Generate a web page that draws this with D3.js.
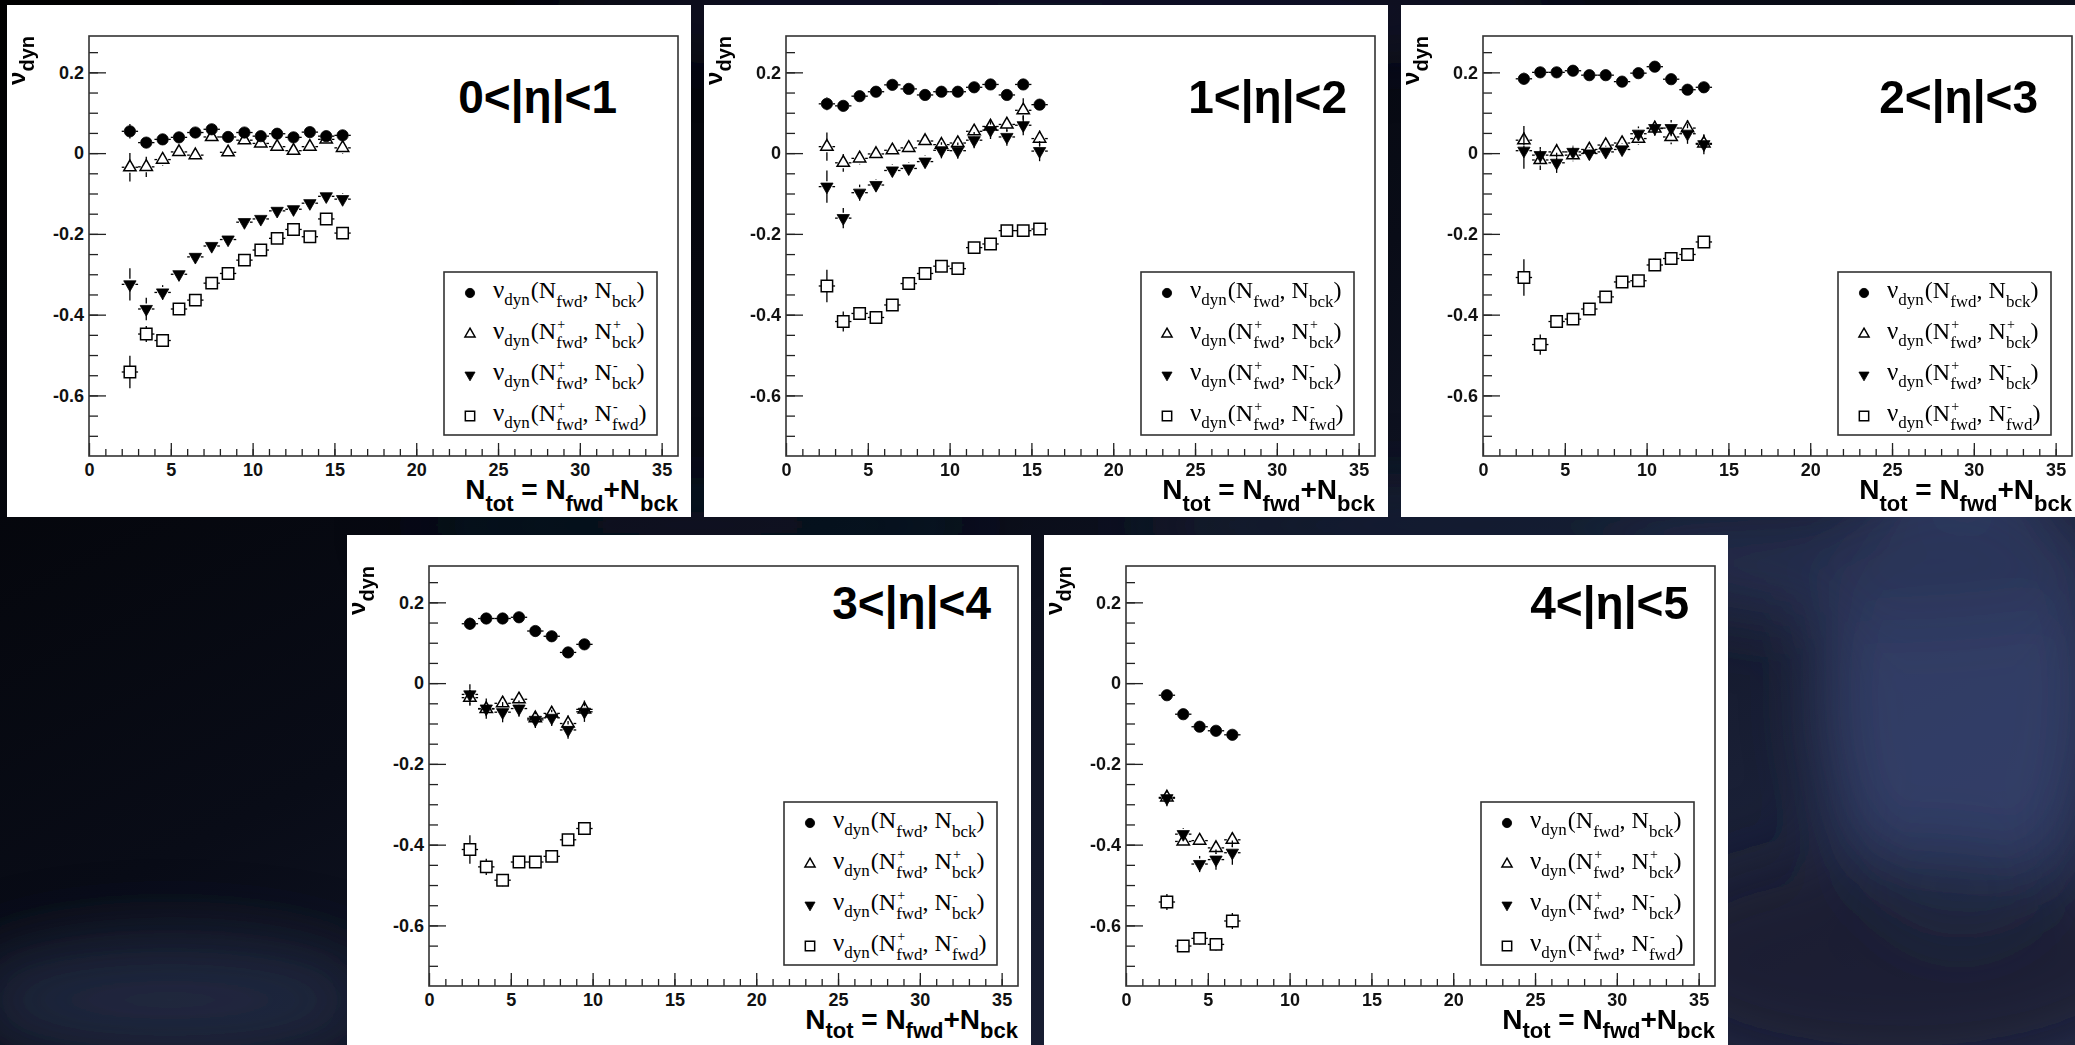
<!DOCTYPE html>
<html>
<head>
<meta charset="utf-8">
<script src="https://cdn.jsdelivr.net/npm/d3@7"></script>
<style>
  html, body { margin: 0; padding: 0; background: #000; overflow: hidden; }
  svg { display: block; }
</style>
</head>
<body>
<div id="chart"></div>
<script>
// Panel labels and axis ticks
var panelLabels = ["0<|η|<1", "1<|η|<2", "2<|η|<3", "3<|η|<4", "4<|η|<5"];
var xTickValues = [0, 5, 10, 15, 20, 25, 30, 35];
var yTickValues = [0.2, 0, -0.2, -0.4, -0.6];
var yTickLabels = ["0.2", "0", "-0.2", "-0.4", "-0.6"];

// N_tot bins for each eta window
var nTot01 = [2.5, 3.5, 4.5, 5.5, 6.5, 7.5, 8.5, 9.5, 10.5, 11.5, 12.5, 13.5, 14.5, 15.5];
var nTot12 = [2.5, 3.5, 4.5, 5.5, 6.5, 7.5, 8.5, 9.5, 10.5, 11.5, 12.5, 13.5, 14.5, 15.5];
var nTot23 = [2.5, 3.5, 4.5, 5.5, 6.5, 7.5, 8.5, 9.5, 10.5, 11.5, 12.5, 13.5];
var nTot34 = [2.5, 3.5, 4.5, 5.5, 6.5, 7.5, 8.5, 9.5];
var nTot45 = [2.5, 3.5, 4.5, 5.5, 6.5];

// v_dyn values: All = (Nfwd,Nbck), PP = (N+fwd,N+bck), PM = (N+fwd,N-bck), PMf = (N+fwd,N-fwd)
var vAll01 = [0.054, 0.026, 0.034, 0.039, 0.051, 0.059, 0.040, 0.051, 0.042, 0.048, 0.039, 0.052, 0.042, 0.044];
var vPP01 = [-0.035, -0.034, -0.016, 0.003, -0.005, 0.040, 0.002, 0.032, 0.024, 0.016, 0.006, 0.016, 0.034, 0.013];
var vPM01 = [-0.325, -0.386, -0.345, -0.300, -0.257, -0.230, -0.214, -0.171, -0.163, -0.143, -0.139, -0.124, -0.107, -0.114];
var vPMf01 = [-0.542, -0.448, -0.464, -0.386, -0.364, -0.322, -0.298, -0.265, -0.240, -0.211, -0.189, -0.207, -0.163, -0.198];

var vAll12 = [0.122, 0.117, 0.141, 0.152, 0.169, 0.159, 0.144, 0.152, 0.152, 0.163, 0.170, 0.144, 0.170, 0.120];
var vPP12 = [0.016, -0.024, -0.013, -0.002, 0.007, 0.013, 0.030, 0.021, 0.025, 0.054, 0.066, 0.071, 0.106, 0.036];
var vPM12 = [-0.083, -0.161, -0.098, -0.079, -0.043, -0.038, -0.021, 0.007, 0.006, 0.032, 0.057, 0.040, 0.069, 0.005];
var vPMf12 = [-0.329, -0.417, -0.397, -0.407, -0.376, -0.323, -0.298, -0.280, -0.286, -0.234, -0.225, -0.192, -0.192, -0.188];

var vAll23 = [0.184, 0.200, 0.200, 0.204, 0.193, 0.193, 0.177, 0.198, 0.214, 0.183, 0.157, 0.163];
var vPP23 = [0.032, -0.017, 0.003, -0.005, 0.009, 0.020, 0.025, 0.036, 0.061, 0.040, 0.062, 0.024];
var vPM23 = [0.006, -0.005, -0.024, 0.003, -0.001, 0.003, 0.009, 0.048, 0.062, 0.062, 0.048, 0.022];
var vPMf23 = [-0.308, -0.474, -0.417, -0.411, -0.386, -0.356, -0.319, -0.316, -0.277, -0.261, -0.251, -0.220];

var vAll34 = [0.147, 0.160, 0.160, 0.163, 0.129, 0.116, 0.076, 0.096];
var vPP34 = [-0.036, -0.064, -0.050, -0.040, -0.087, -0.075, -0.100, -0.065];
var vPM34 = [-0.028, -0.063, -0.072, -0.063, -0.091, -0.086, -0.116, -0.071];
var vPMf34 = [-0.412, -0.455, -0.488, -0.443, -0.443, -0.429, -0.388, -0.360];

var vAll45 = [-0.030, -0.077, -0.108, -0.118, -0.128];
var vPP45 = [-0.283, -0.392, -0.390, -0.408, -0.388];
var vPM45 = [-0.285, -0.374, -0.448, -0.437, -0.420];
var vPMf45 = [-0.542, -0.651, -0.632, -0.647, -0.589];

// statistical errors (vertical)
var eAll01 = [0.018, 0.008, 0.007, 0.007, 0.007, 0.007, 0.007, 0.007, 0.007, 0.007, 0.008, 0.008, 0.009, 0.010];
var ePP01 = [0.035, 0.025, 0.015, 0.012, 0.010, 0.010, 0.012, 0.010, 0.010, 0.010, 0.012, 0.012, 0.012, 0.015];
var ePM01 = [0.040, 0.028, 0.018, 0.012, 0.010, 0.010, 0.010, 0.010, 0.010, 0.010, 0.010, 0.010, 0.012, 0.015];
var ePMf01 = [0.040, 0.020, 0.012, 0.010, 0.010, 0.010, 0.010, 0.010, 0.010, 0.010, 0.010, 0.010, 0.010, 0.010];

var eAll12 = [0.016, 0.010, 0.008, 0.008, 0.008, 0.008, 0.008, 0.008, 0.008, 0.008, 0.008, 0.008, 0.010, 0.010];
var ePP12 = [0.035, 0.022, 0.015, 0.012, 0.012, 0.012, 0.012, 0.015, 0.015, 0.015, 0.018, 0.018, 0.030, 0.020];
var ePM12 = [0.040, 0.025, 0.020, 0.015, 0.015, 0.015, 0.015, 0.020, 0.020, 0.020, 0.022, 0.022, 0.025, 0.025];
var ePMf12 = [0.040, 0.025, 0.015, 0.010, 0.010, 0.010, 0.010, 0.010, 0.010, 0.010, 0.010, 0.010, 0.010, 0.012];

var eAll23 = [0.015, 0.010, 0.008, 0.008, 0.008, 0.008, 0.008, 0.008, 0.008, 0.008, 0.010, 0.012];
var ePP23 = [0.035, 0.025, 0.020, 0.015, 0.015, 0.015, 0.015, 0.015, 0.018, 0.018, 0.020, 0.020];
var ePM23 = [0.045, 0.020, 0.025, 0.015, 0.015, 0.015, 0.015, 0.018, 0.018, 0.020, 0.025, 0.025];
var ePMf23 = [0.045, 0.025, 0.015, 0.010, 0.010, 0.010, 0.010, 0.010, 0.010, 0.010, 0.010, 0.015];

var eAll34 = [0.015, 0.010, 0.008, 0.008, 0.008, 0.008, 0.008, 0.010];
var ePP34 = [0.020, 0.018, 0.018, 0.018, 0.018, 0.018, 0.020, 0.022];
var ePM34 = [0.025, 0.025, 0.025, 0.020, 0.020, 0.020, 0.022, 0.025];
var ePMf34 = [0.035, 0.020, 0.015, 0.010, 0.010, 0.010, 0.010, 0.012];

var eAll45 = [0.008, 0.008, 0.008, 0.008, 0.008];
var ePP45 = [0.015, 0.012, 0.012, 0.015, 0.018];
var ePM45 = [0.020, 0.015, 0.020, 0.025, 0.030];
var ePMf45 = [0.020, 0.015, 0.015, 0.015, 0.020];

// legend superscripts / subscripts for the four series
var legendSup1 = ["", "+", "+", "+"];
var legendSub1 = ["fwd", "fwd", "fwd", "fwd"];
var legendSup2 = ["", "+", "-", "-"];
var legendSub2 = ["bck", "bck", "bck", "fwd"];

// Build one table of panels from the arrays above
var panels = [
  { label: panelLabels[0], x: nTot01, y: [vAll01, vPP01, vPM01, vPMf01], err: [eAll01, ePP01, ePM01, ePMf01] },
  { label: panelLabels[1], x: nTot12, y: [vAll12, vPP12, vPM12, vPMf12], err: [eAll12, ePP12, ePM12, ePMf12] },
  { label: panelLabels[2], x: nTot23, y: [vAll23, vPP23, vPM23, vPMf23], err: [eAll23, ePP23, ePM23, ePMf23] },
  { label: panelLabels[3], x: nTot34, y: [vAll34, vPP34, vPM34, vPMf34], err: [eAll34, ePP34, ePM34, ePMf34] },
  { label: panelLabels[4], x: nTot45, y: [vAll45, vPP45, vPM45, vPMf45], err: [eAll45, ePP45, ePM45, ePMf45] }
];

// Layout (pixels)
var svgWidth = 2075;
var svgHeight = 1045;
var panelOrigin = [[7, 5], [704, 5], [1401, 5], [347, 535], [1044, 535]];
var panelW = 684, panelH = 512;
var frame = { left: 82, top: 31, width: 589, height: 420 };
var labelRightGap = [61, 28, 34, 27, 26];
var labelBaseline = [77, 77, 77, 53, 53];
var xTitleBaseline = [494, 494, 494, 494, 494];
var xTitleSubDrop = [12, 12, 12, 9, 9];
var legendBox = { left: 355, top: 236, width: 213, height: 163 };

var sansFont = "'Liberation Sans', Arial, Helvetica, sans-serif";
var serifFont = "'Liberation Serif', 'Times New Roman', Times, serif";

var svg = d3.select("#chart")
  .append("svg")
  .attr("width", svgWidth)
  .attr("height", svgHeight);

// ---- dark blue slide background ----
var defs = svg.append("defs");
var bgGrad = defs.append("linearGradient")
  .attr("id", "bgGrad")
  .attr("x1", "0").attr("y1", "0").attr("x2", "1").attr("y2", "1");
bgGrad.append("stop").attr("offset", "0%").attr("stop-color", "#000000");
bgGrad.append("stop").attr("offset", "45%").attr("stop-color", "#090c17");
bgGrad.append("stop").attr("offset", "100%").attr("stop-color", "#232b48");

defs.append("filter").attr("id", "soft")
  .attr("filterUnits", "userSpaceOnUse")
  .attr("x", 0).attr("y", 0).attr("width", svgWidth).attr("height", svgHeight)
  .append("feGaussianBlur").attr("stdDeviation", 35);

svg.append("rect")
  .attr("width", svgWidth)
  .attr("height", svgHeight)
  .attr("fill", "url(#bgGrad)");

var bgBlobs = [
  [1960, 690, 140, 250, "#3b4775", 0.75],
  [1880, 560, 260, 60, "#2a3356", 0.8],
  [1900, 960, 260, 110, "#171c31", 0.7],
  [170, 1000, 210, 60, "#2a3452", 0.65],
  [1050, 10, 520, 40, "#161c32", 0.8],
  [1500, 525, 380, 30, "#1c2440", 0.8],
  [700, 525, 300, 25, "#121729", 0.8]
];
var blobs = svg.append("g").attr("filter", "url(#soft)");
bgBlobs.forEach(function(b) {
  blobs.append("ellipse")
    .attr("cx", b[0]).attr("cy", b[1])
    .attr("rx", b[2]).attr("ry", b[3])
    .attr("fill", b[4]).attr("opacity", b[5]);
});

// Scales shared by every panel (same frame size)
var xScale = d3.scaleLinear().domain([0, 36]).range([0, frame.width]);
var yScale = d3.scaleLinear().domain([-0.75, 0.29]).range([frame.height, 0]);

// marker shapes
var markerTypes = ["circle", "triOpen", "triDown", "squareOpen"];
function markerPath(type, small) {
  var k = small ? 0.82 : 1;
  if (type === "circle") return d3.symbol().type(d3.symbolCircle).size(100 * k * k)();
  if (type === "squareOpen") return d3.symbol().type(d3.symbolSquare).size(130 * k * k)();
  return d3.symbol().type(d3.symbolTriangle).size(66 * k * k)();
}
function markerHalf(type) {
  if (type === "circle") return 5.6;
  if (type === "squareOpen") return 5.7;
  return 5.5;
}
function drawMarker(g, type, x, y, small) {
  var open = (type === "triOpen" || type === "squareOpen");
  g.append("path")
    .attr("d", markerPath(type, small))
    .attr("transform", "translate(" + x + "," + y + ")" + (type === "triDown" ? " rotate(180)" : ""))
    .attr("fill", open ? "none" : "#000")
    .attr("stroke", "#000")
    .attr("stroke-width", open ? 1.5 : 0.8);
}

// sequential text pieces for the legend (TLatex style)
function piece(g, x, y, txt, size) {
  var t = g.append("text")
    .attr("x", x).attr("y", y)
    .attr("font-family", serifFont)
    .attr("font-size", size)
    .attr("fill", "#000")
    .text(txt);
  return t.node().getComputedTextLength();
}
function legendText(g, x, y, sup1, sub1, sup2, sub2) {
  var cx = x;
  cx += piece(g, cx, y, "ν", 25);
  cx += piece(g, cx, y + 7, "dyn", 17) + 1;
  cx += piece(g, cx, y, "(N", 24);
  var w1 = piece(g, cx, y + 9, sub1, 17);
  if (sup1) piece(g, cx + 1, y - 10, sup1, 14);
  cx += w1;
  cx += piece(g, cx, y, ", N", 24);
  var w2 = piece(g, cx, y + 9, sub2, 17);
  if (sup2) piece(g, cx + 1, y - 10, sup2, 14);
  cx += w2;
  piece(g, cx, y, ")", 24);
}

panels.forEach(function(p, i) {
  var pg = svg.append("g")
    .attr("transform", "translate(" + panelOrigin[i][0] + "," + panelOrigin[i][1] + ")");

  pg.append("rect")
    .attr("width", panelW)
    .attr("height", panelH)
    .attr("fill", "#ffffff");

  var chartGroup = pg.append("g")
    .attr("transform", "translate(" + frame.left + "," + frame.top + ")");

  // minor ticks
  chartGroup.append("g")
    .attr("transform", "translate(0," + frame.height + ")")
    .call(d3.axisBottom(xScale).tickValues(d3.range(1, 36)).tickSize(-7).tickFormat(""))
    .call(function(a) { a.select(".domain").remove(); });
  chartGroup.append("g")
    .call(d3.axisLeft(yScale).tickValues(d3.range(-0.7, 0.26, 0.05)).tickSize(-9).tickFormat(""))
    .call(function(a) { a.select(".domain").remove(); });

  // major ticks + labels
  var xAxis = chartGroup.append("g")
    .attr("transform", "translate(0," + frame.height + ")")
    .call(d3.axisBottom(xScale).tickValues(xTickValues).tickSize(-13).tickPadding(7));
  var yAxis = chartGroup.append("g")
    .call(d3.axisLeft(yScale).tickValues(yTickValues).tickSize(-17).tickPadding(5)
      .tickFormat(function(d, k) { return yTickLabels[k]; }));

  [xAxis, yAxis].forEach(function(a) {
    a.select(".domain").remove();
    a.selectAll("text")
      .attr("font-family", sansFont)
      .attr("font-weight", "bold")
      .attr("font-size", 18)
      .attr("fill", "#111");
  });
  chartGroup.selectAll(".tick line").attr("stroke", "#222").attr("stroke-width", 1.3);

  // frame
  chartGroup.append("rect")
    .attr("width", frame.width)
    .attr("height", frame.height)
    .attr("fill", "none")
    .attr("stroke", "#333")
    .attr("stroke-width", 1.6);

  // data: error bars then markers for each series
  var halfBin = xScale(0.5) - xScale(0);
  p.y.forEach(function(vals, s) {
    var type = markerTypes[s];
    var h = markerHalf(type);
    var sg = chartGroup.append("g");
    vals.forEach(function(v, k) {
      var px = xScale(p.x[k]);
      var py = yScale(v);
      var ePx = yScale(0) - yScale(p.err[s][k]);
      var segs = [[px - halfBin, py, px - h, py], [px + h, py, px + halfBin, py]];
      if (ePx > h) {
        segs.push([px, py - ePx, px, py - h]);
        segs.push([px, py + h, px, py + ePx]);
      }
      segs.forEach(function(l) {
        sg.append("line")
          .attr("x1", l[0]).attr("y1", l[1])
          .attr("x2", l[2]).attr("y2", l[3])
          .attr("stroke", "#000")
          .attr("stroke-width", 1.3);
      });
    });
    vals.forEach(function(v, k) {
      drawMarker(sg, type, xScale(p.x[k]), yScale(v), false);
    });
  });

  // eta window label
  chartGroup.append("text")
    .attr("x", frame.width - labelRightGap[i])
    .attr("y", labelBaseline[i])
    .attr("text-anchor", "end")
    .attr("font-family", sansFont)
    .attr("font-weight", "bold")
    .attr("font-size", 46)
    .attr("fill", "#000")
    .text(p.label);

  // legend
  var lg = chartGroup.append("g")
    .attr("transform", "translate(" + legendBox.left + "," + legendBox.top + ")");
  lg.append("rect")
    .attr("width", legendBox.width)
    .attr("height", legendBox.height)
    .attr("fill", "#fff")
    .attr("stroke", "#333")
    .attr("stroke-width", 1.6);
  markerTypes.forEach(function(t, s) {
    var ry = 21 + s * 41;
    drawMarker(lg, t, 26, ry, true);
    legendText(lg, 49, ry + 5, legendSup1[s], legendSub1[s], legendSup2[s], legendSub2[s]);
  });

  // y axis title
  var yt = pg.append("text")
    .attr("transform", "translate(18," + frame.top + ") rotate(-90)")
    .attr("text-anchor", "end")
    .attr("font-family", sansFont)
    .attr("font-weight", "bold")
    .attr("fill", "#000");
  yt.append("tspan").attr("font-size", 24).text("ν");
  yt.append("tspan").attr("font-size", 20).attr("dy", 9).text("dyn");

  // x axis title
  var drop = xTitleSubDrop[i];
  var xt = pg.append("text")
    .attr("x", frame.left + frame.width)
    .attr("y", xTitleBaseline[i])
    .attr("text-anchor", "end")
    .attr("font-family", sansFont)
    .attr("font-weight", "bold")
    .attr("fill", "#000");
  xt.append("tspan").attr("font-size", 28).text("N");
  xt.append("tspan").attr("font-size", 22).attr("dy", drop).text("tot");
  xt.append("tspan").attr("font-size", 28).attr("dy", -drop).text(" = N");
  xt.append("tspan").attr("font-size", 22).attr("dy", drop).text("fwd");
  xt.append("tspan").attr("font-size", 28).attr("dy", -drop).text("+N");
  xt.append("tspan").attr("font-size", 22).attr("dy", drop).text("bck");
});
</script>
</body>
</html>
